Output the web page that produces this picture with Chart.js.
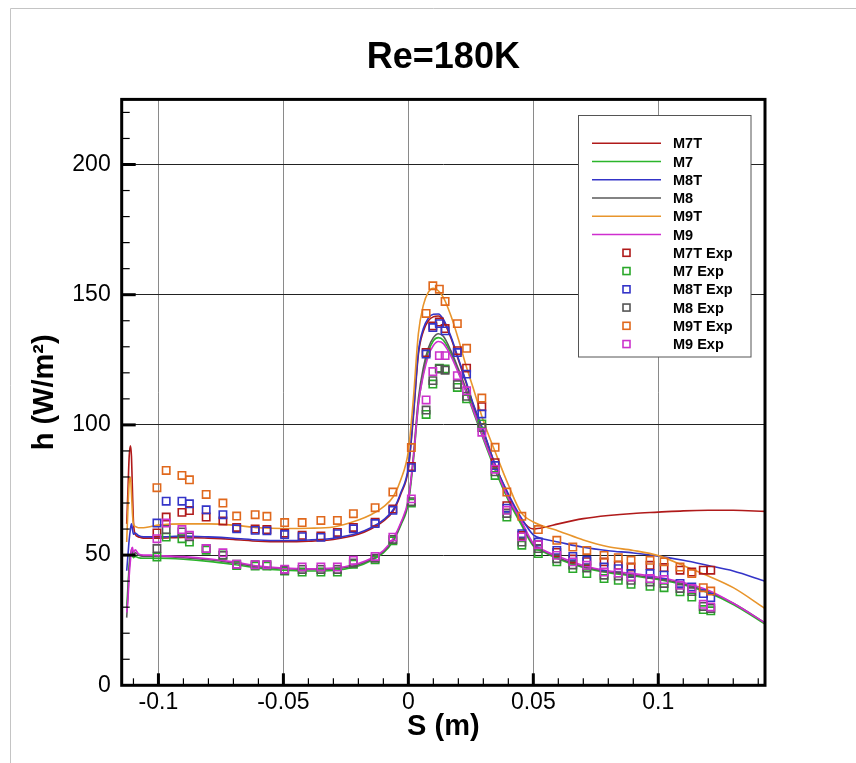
<!DOCTYPE html>
<html>
<head>
<meta charset="utf-8">
<title>Re=180K</title>
<script src="https://cdn.jsdelivr.net/npm/chart.js@4.4.1/dist/chart.umd.min.js"></script>
<style>
  html, body { margin: 0; padding: 0; background: #fff; }
  #htcChart { display: block; width: 856px; height: 763px; }
</style>
</head>
<body>
<canvas id="htcChart" width="856" height="763"></canvas>
<script>
// surface distance S (m) of the computed curves
const sLine = [-0.1127, -0.1122, -0.1117, -0.1112, -0.1108, -0.1104, -0.110, -0.1093, -0.108, -0.106, -0.103,
  -0.1, -0.09, -0.08, -0.07, -0.06, -0.05, -0.04, -0.03, -0.02, -0.015, -0.01, -0.006, -0.003, 0,
  0.002, 0.004, 0.006, 0.008, 0.01, 0.012, 0.014, 0.017, 0.02, 0.023, 0.026, 0.03, 0.035, 0.04, 0.045,
  0.05, 0.055, 0.06, 0.07, 0.08, 0.09, 0.1, 0.11, 0.12, 0.13, 0.1427];

const m7tLine = [62, 75, 88, 92, 88, 75, 63, 58, 57, 56.5, 56.5,
  56.5, 56.8, 56.5, 56, 55.3, 55.1, 55.3, 56, 58, 60, 63, 67, 73.5, 83,
  103, 127, 136, 140, 141.5, 141.8, 140, 133.5, 125, 116.5, 107.5, 97.5, 84, 73, 64,
  60, 60.8, 62, 64, 65.2, 66, 66.5, 67, 67.2, 67.2, 66.8];
const m7Line = [30, 38, 46, 50, 51, 50, 49, 49.5, 49, 48.8, 48.8,
  48.8, 48.4, 47.6, 46.4, 45, 44.2, 43.9, 44.1, 45.8, 47.8, 50.8, 55.5, 61.5, 70,
  86, 107.5, 120, 128, 132.3, 133.5, 132.5, 127.5, 120.5, 113, 105, 94.5, 82, 71, 62,
  53.5, 50.8, 48.5, 45.2, 43.2, 42, 40.6, 38.6, 35.5, 31, 23.5];
const m8tLine = [44, 50, 56, 60, 62, 60, 58, 58.5, 57.5, 57, 57,
  57, 57.3, 57, 56.5, 55.8, 55.6, 55.8, 56.5, 58.5, 60.5, 63.5, 67.5, 74, 83.8,
  104, 128, 137, 141, 142.5, 142.6, 140.6, 134, 125.5, 117, 108, 97.8, 84, 73.5, 64.6,
  57.8, 56, 55, 53, 51.7, 50.8, 49.6, 48, 46, 43.9, 40];
const m8Line = [26, 35, 45, 50, 52, 51, 50, 51, 50, 49.5, 49.5,
  49.5, 49, 48.2, 47, 45.5, 44.8, 44.5, 44.7, 46.3, 48.3, 51.3, 56, 62, 71,
  88, 110, 122, 129.5, 133.5, 135, 134, 128.5, 121.5, 114, 106, 95.5, 83, 72, 63,
  54, 51.2, 49, 45.6, 43.6, 42.4, 41, 39, 36, 31.5, 24];
const m9tLine = [55, 68, 78, 80, 74, 66, 62, 61, 60.5, 60.5, 61,
  61.5, 62, 62, 61.5, 60.5, 60.2, 60.3, 60.8, 63.5, 65.5, 68.5, 72.5, 79, 90,
  110, 135, 146, 151, 152.5, 151.5, 149, 142, 133, 123, 114, 101.6, 89, 77, 66.5,
  62.7, 60.8, 59.3, 55.8, 53.2, 51.8, 49.8, 46, 42, 37.5, 29.5];
const m9Line = [28, 33, 42, 48, 52, 53, 51, 52, 50.5, 50, 50,
  49.8, 49.4, 48.6, 47.4, 45.8, 45, 44.7, 45, 46.8, 48.7, 51.7, 56.5, 62.5, 71.5,
  87, 108, 119, 126.5, 130.5, 132, 131.2, 126.5, 120, 113, 105.5, 95, 83, 72, 63.5,
  54.5, 51.5, 49.5, 46, 44, 42.9, 41.5, 39.5, 36.5, 31.5, 24];

// measurement stations S (m) and measured h (W/m2)
const sExp = [-0.1006, -0.0969, -0.0906, -0.0876, -0.0809, -0.0742, -0.0687, -0.0613, -0.0566, -0.0495,
  -0.0425, -0.035, -0.0284, -0.022, -0.0133, -0.0062, 0.0012, 0.0071, 0.0098, 0.0124,
  0.0147, 0.0196, 0.0233, 0.0294, 0.0347, 0.0394, 0.0454, 0.052, 0.0594, 0.0658,
  0.0714, 0.0783, 0.084, 0.0891, 0.0967, 0.1023, 0.1087, 0.1134, 0.118, 0.121];

const m7tExp = [58.5, 64.6, 66.4, 67.1, 64.6, 63.1, 60.6, 60, 59.8, 58.4,
  57.6, 57.3, 58.7, 60.6, 62.6, 67.7, 84, 127.8, 138, 139.5,
  137, 128.5, 121.8, 107, 85.5, 69, 57.5, 54, 51, 48.5,
  47.5, 47.4, 46.1, 45.4, 46.1, 45.2, 44.2, 43.5, 44.2, 44.2];
const m7Exp = [49.3, 56.9, 56.3, 55, 51.9, 50, 46, 45.8, 45.8, 43.9,
  43.5, 43.5, 43.5, 46.5, 48.2, 55.5, 70, 104, 115.7, 121.8,
  121.5, 114.4, 110, 100.4, 80.6, 64.6, 53.8, 50.6, 47.4, 44.8,
  42.9, 41, 40.3, 38.8, 38, 37.5, 35.9, 33.9, 29.1, 28.6];
const m8tExp = [62.3, 70.7, 70.7, 69.7, 67.4, 65.5, 60.1, 59.5, 59.3, 57.9,
  57.1, 56.8, 58.2, 60.1, 62.1, 67.2, 83.6, 127.2, 137.4, 138.9,
  136.1, 127.8, 119.5, 104.2, 84.4, 68, 58.2, 55, 51.8, 49.5,
  48, 45.4, 44.8, 42.9, 42.9, 42.3, 39.1, 37.8, 35.2, 33.7];
const m8Exp = [52.5, 59.8, 58.9, 57, 52.5, 49.9, 46.5, 46.3, 46.3, 44.2,
  44.5, 44.5, 44.5, 47, 48.8, 56, 70.5, 105.7, 117, 121.5,
  121, 115.5, 111, 99, 82, 66, 55, 52.5, 48.6, 46.2,
  45, 42.3, 42, 40.3, 39.7, 39.1, 37.2, 36, 30.3, 29.5];
const m9tExp = [75.9, 82.5, 80.6, 78.9, 73.3, 70, 65, 65.5, 64.9, 62.5,
  62.5, 63.3, 63.3, 65.9, 68.2, 74.2, 91.3, 142.8, 153.4, 152.1,
  147.4, 138.9, 129.4, 110.3, 91.4, 74.2, 64.9, 59.8, 55.7, 53.1,
  51.8, 49.9, 49, 48, 48, 47.4, 45.4, 42.9, 37.5, 36.2];
const m9Exp = [56.3, 62.3, 59.8, 57.6, 52.5, 50.9, 46.5, 46.3, 46.3, 44.6,
  45.4, 45.4, 45.4, 48, 49.5, 56.9, 71.6, 109.6, 120.5, 126.6,
  126.6, 118.9, 113.1, 97.2, 83, 67.2, 57, 54, 49.9, 47.4,
  46.1, 43.5, 43.1, 41.6, 41, 40.6, 38.4, 37.2, 31.1, 30.1];

const xTicks = [-0.1, -0.05, 0, 0.05, 0.1];
const xTickLabels = ['-0.1', '-0.05', '0', '0.05', '0.1'];
const yTicks = [0, 50, 100, 150, 200];
const yTickLabels = ['0', '50', '100', '150', '200'];

const FONT = "'Liberation Sans', Arial, sans-serif";

const lineSeries = [
  { label: 'M7T', data: m7tLine, color: '#b01a1a' },
  { label: 'M7', data: m7Line, color: '#2bb52b' },
  { label: 'M8T', data: m8tLine, color: '#3434c8' },
  { label: 'M8', data: m8Line, color: '#5a5a5a' },
  { label: 'M9T', data: m9tLine, color: '#e8952c' },
  { label: 'M9', data: m9Line, color: '#cf2ecf' }
];
const expSeries = [
  { label: 'M7T Exp', data: m7tExp, color: '#b01a1a' },
  { label: 'M7 Exp', data: m7Exp, color: '#2aa82a' },
  { label: 'M8T Exp', data: m8tExp, color: '#3434c8' },
  { label: 'M8 Exp', data: m8Exp, color: '#555555' },
  { label: 'M9T Exp', data: m9tExp, color: '#e0681c' },
  { label: 'M9 Exp', data: m9Exp, color: '#cc33cc' }
];

const toPoints = (xs, ys) => xs.map((x, i) => ({ x, y: ys[i] }));

const datasets = [
  ...lineSeries.map((s, i) => ({
    label: s.label,
    data: toPoints(sLine, s.data),
    borderColor: s.color,
    borderWidth: 1.6,
    pointRadius: 0,
    cubicInterpolationMode: 'monotone',
    fill: false,
    order: 20 - i
  })),
  ...expSeries.map((s, i) => ({
    label: s.label,
    data: toPoints(sExp, s.data),
    showLine: false,
    borderColor: s.color,
    backgroundColor: 'rgba(0,0,0,0)',
    pointStyle: 'rect',
    pointRadius: 5.2,
    pointBorderWidth: 1.6,
    order: 10 - i
  }))
];

// inward tick marks and heavy frame, the Tecplot way
const frameTicks = {
  id: 'frameTicks',
  beforeDraw(chart) {
    const ctx = chart.ctx;
    ctx.save();
    ctx.strokeStyle = '#c4c4c4';
    ctx.lineWidth = 1;
    ctx.beginPath();
    ctx.moveTo(10.5, 763);
    ctx.lineTo(10.5, 8.5);
    ctx.lineTo(856, 8.5);
    ctx.stroke();
    ctx.restore();
  },
  afterDraw(chart) {
    const { ctx, chartArea: a, scales: { x, y } } = chart;
    ctx.save();
    ctx.strokeStyle = '#000';
    for (let k = -11; k <= 14; k++) {
      const px = x.getPixelForValue(k / 100);
      const major = k % 5 === 0;
      ctx.lineWidth = major ? 3 : 1.2;
      ctx.beginPath();
      ctx.moveTo(px, a.bottom);
      ctx.lineTo(px, a.bottom - (major ? 12 : 7));
      ctx.stroke();
    }
    for (let v = 10; v <= 220; v += 10) {
      const py = y.getPixelForValue(v);
      const major = v % 50 === 0;
      ctx.lineWidth = major ? 3 : 1.2;
      ctx.beginPath();
      ctx.moveTo(a.left, py);
      ctx.lineTo(a.left + (major ? 14 : 8), py);
      ctx.stroke();
    }
    ctx.lineWidth = 3;
    ctx.strokeRect(a.left, a.top, a.right - a.left, a.bottom - a.top);
    ctx.restore();
  }
};

// boxed legend inside the plot, lines first then symbols
const boxLegend = {
  id: 'boxLegend',
  afterDatasetsDraw(chart) {
    const ctx = chart.ctx;
    ctx.save();
    ctx.fillStyle = '#fff';
    ctx.fillRect(578.5, 115.5, 172.5, 241.5);
    ctx.strokeStyle = '#555';
    ctx.lineWidth = 1;
    ctx.strokeRect(578.5, 115.5, 172.5, 241.5);
    ctx.font = 'bold 14.5px ' + FONT;
    ctx.textBaseline = 'middle';
    chart.data.datasets.forEach((ds, i) => {
      const ry = 143.3 + i * 18.25;
      ctx.strokeStyle = ds.borderColor;
      ctx.lineWidth = 1.6;
      if (ds.showLine === false) {
        ctx.strokeRect(623, ry - 3.5, 7, 7);
      } else {
        ctx.beginPath();
        ctx.moveTo(592, ry);
        ctx.lineTo(661, ry);
        ctx.stroke();
      }
      ctx.fillStyle = '#000';
      ctx.fillText(ds.label, 673, ry + 1);
    });
    ctx.restore();
  }
};

new Chart(document.getElementById('htcChart'), {
  type: 'line',
  data: { datasets },
  plugins: [frameTicks, boxLegend],
  options: {
    responsive: false,
    animation: false,
    layout: { padding: { left: 0, right: 91, top: 0, bottom: 0 } },
    plugins: {
      legend: { display: false },
      tooltip: { enabled: false },
      title: {
        display: true,
        text: 'Re=180K',
        color: '#000',
        fullSize: false,
        font: { family: FONT, size: 36, weight: 'bold' },
        padding: { top: 36, bottom: 20.2 }
      }
    },
    scales: {
      x: {
        type: 'linear',
        min: -0.1147,
        max: 0.1427,
        afterFit: s => { s.height = 77.7; },
        afterBuildTicks: s => { s.ticks = xTicks.map(v => ({ value: v })); },
        grid: { color: '#8a8a8a', lineWidth: 1, drawTicks: false },
        border: { display: false },
        ticks: {
          padding: 4,
          color: '#000',
          font: { family: FONT, size: 23 },
          callback: v => xTickLabels[xTicks.findIndex(t => Math.abs(t - v) < 1e-9)]
        },
        title: {
          display: true,
          text: 'S (m)',
          color: '#000',
          font: { family: FONT, size: 29, weight: 'bold' },
          padding: { top: 0, bottom: 18.5 }
        }
      },
      y: {
        type: 'linear',
        min: 0,
        max: 225,
        afterFit: s => { s.width = 121.7; },
        afterBuildTicks: s => { s.ticks = yTicks.map(v => ({ value: v })); },
        grid: { color: '#222', lineWidth: 1, drawTicks: false },
        border: { display: false },
        ticks: {
          padding: 11,
          color: '#000',
          font: { family: FONT, size: 23 },
          callback: v => yTickLabels[yTicks.indexOf(v)]
        },
        title: {
          display: true,
          text: 'h (W/m²)',
          color: '#000',
          font: { family: FONT, size: 29, weight: 'bold' },
          padding: { top: 27.5, bottom: 0 }
        }
      }
    }
  }
});
</script>
</body>
</html>
